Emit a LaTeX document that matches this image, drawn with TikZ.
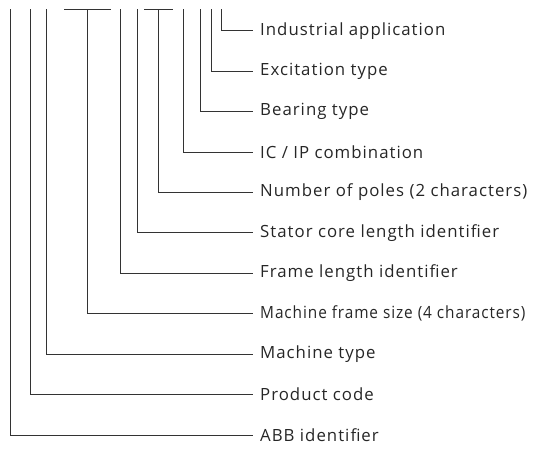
\documentclass[tikz,border=0pt]{standalone}
\usepackage{fontspec}
\setmainfont[LetterSpace=6]{Open Sans}
\definecolor{txt}{HTML}{262626}
\definecolor{ln}{HTML}{333333}
\begin{document}
\begin{tikzpicture}[x=1pt,y=-1pt,
  lbl/.style={anchor=west,inner xsep=7.5pt,inner ysep=0pt,text=txt,font=\fontsize{16.8}{19}\selectfont},
  conn/.style={draw=ln,line width=0.95pt}]
\useasboundingbox (0,0) rectangle (534,448);
\def\ytop{9.3}
\foreach \i/\t in {0/{Industrial application},1/{Excitation type},2/{Bearing type},3/{IC / IP combination},4/{Number of poles (2 characters)},5/{Stator core length identifier},6/{Frame length identifier},7/{\scalebox{0.915}[1]{Machine frame size (4 characters)}},8/{Machine type},9/{Product code},10/{ABB identifier}}{
  \node[lbl] (l\i) at (252.5,{30.7+40.43*\i}) {\t};
}
\foreach \i/\x in {0/221.7,1/211.3,2/200,3/183.3,4/158.7,5/137.3,6/120,7/87.3,8/46.7,9/30,10/10.7}{
  \coordinate (c\i) at (\x,\ytop);
  \draw[conn] (c\i) |- (l\i.west);
}
\coordinate (ta) at (64,\ytop);
\coordinate (tb) at (110.7,\ytop);
\coordinate (tc) at (144.3,\ytop);
\coordinate (td) at (172.7,\ytop);
\draw[conn] (ta) -- (tb);
\draw[conn] (tc) -- (td);
\end{tikzpicture}
\end{document}
